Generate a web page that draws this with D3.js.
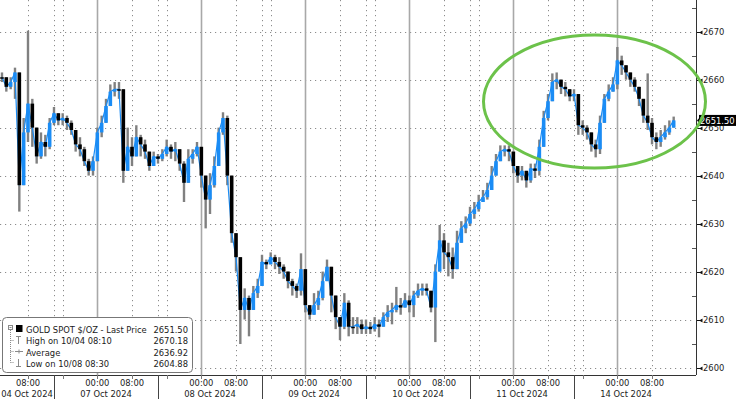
<!DOCTYPE html>
<html>
<head>
<meta charset="utf-8">
<script src="https://cdn.jsdelivr.net/npm/d3@7"></script>
<style>
body { margin: 0; background: #fff; }
svg { display: block; font-family: "DejaVu Sans Condensed", "Liberation Sans", sans-serif; }
</style>
</head>
<body>
<svg width="736" height="399"></svg>
<script>
// hourly bars, first bar = session hour 12 (04 Oct)
var firstHour = 12;

var closes = [
  2660.5, 2658.5, 2659.5, 2661.5, 2638, 2649, 2655, 2650, 2644, 2647, 2646, 2651,
  2653, 2651.5, 2652, 2651, 2649.5, 2646.5, 2645.5, 2643, 2641, 2643, 2649, 2651,
  2654.5, 2657.5, 2658, 2658, 2641, 2646, 2644, 2648, 2646.5, 2645, 2642, 2644,
  2643.5, 2644.5, 2646, 2645, 2645.5, 2642.5, 2638.5, 2643.5, 2644.5, 2646, 2640, 2635,
  2638, 2642, 2649, 2652, 2640, 2628, 2623, 2612, 2614.5, 2612, 2615.5, 2617,
  2622, 2621.5, 2623, 2622, 2621, 2620, 2618, 2617, 2616, 2620.5, 2613, 2611,
  2613, 2614.5, 2618, 2621, 2615, 2610.5, 2608.5, 2613.5, 2608.5, 2608.5, 2609, 2608,
  2608.5, 2608, 2609, 2608.5, 2610.5, 2611.5, 2612, 2613, 2612.5, 2614, 2613, 2615,
  2616, 2616.5, 2616, 2612.5, 2620, 2626.5, 2624, 2623, 2620.5, 2626, 2629, 2630,
  2632, 2633, 2634.5, 2635.5, 2637, 2640, 2643, 2645, 2645.5, 2645, 2642, 2640,
  2641, 2639, 2641.5, 2641, 2646, 2652, 2655.5, 2659.5, 2660, 2658.5, 2658, 2656.5,
  2657, 2650.5, 2650, 2649, 2646.5, 2645.5, 2651, 2656, 2657.5, 2659, 2664, 2663,
  2661.5, 2660, 2658.5, 2656, 2652.5, 2651, 2648, 2647, 2648, 2649, 2650, 2651.5
];

var highs = [
  2661.5, 2660.5, 2660.5, 2662.5, 2656, 2652, 2670.2, 2656, 2650, 2649, 2648.5, 2652,
  2654.3, 2653, 2653, 2652.5, 2651.5, 2649, 2648, 2646, 2643.5, 2644, 2650, 2652.5,
  2656, 2659, 2659.5, 2659.5, 2656, 2650, 2648, 2650.5, 2648.5, 2647.5, 2645, 2645,
  2644.5, 2645.5, 2647.5, 2646.5, 2647, 2645.5, 2643, 2645.5, 2645.5, 2647, 2646, 2640,
  2640.5, 2644, 2650, 2653.2, 2652.5, 2640, 2628, 2623, 2616.5, 2615, 2617, 2618.5,
  2623.5, 2622.5, 2624, 2623.5, 2623, 2621.5, 2620, 2618.5, 2617.5, 2623.8, 2619, 2613,
  2615.5, 2616, 2620, 2622.5, 2620.5, 2612.5, 2610.5, 2615.5, 2614, 2610.5, 2610.5, 2610,
  2610, 2609.5, 2610.5, 2610, 2611.5, 2613, 2613.5, 2616.8, 2614.5, 2615.5, 2615, 2616,
  2617.5, 2617.5, 2617.5, 2615.5, 2621.5, 2629.7, 2628, 2626, 2625, 2628.5, 2630.5, 2631.5,
  2633.5, 2634.5, 2636, 2637, 2638.5, 2642, 2644.5, 2646.3, 2646.3, 2646.3, 2645, 2641.5,
  2642, 2641, 2642.5, 2642.5, 2647.5, 2653.5, 2657, 2661.3, 2661.5, 2660, 2659.5, 2658,
  2658, 2655.7, 2651.5, 2650.5, 2648.5, 2647.5, 2652.5, 2657, 2659, 2660.5, 2666.8, 2665,
  2663, 2661.5, 2660.5, 2658.5, 2655.5, 2661.3, 2652, 2649, 2649.5, 2650.5, 2651.5, 2652.3
];

var lows = [
  2659.5, 2657.5, 2658, 2656, 2632.5, 2640, 2647, 2646, 2642.5, 2643.5, 2644, 2645.5,
  2650.5, 2650.5, 2650.5, 2649.5, 2648.5, 2645, 2644, 2642, 2640, 2640, 2643, 2648,
  2651, 2655, 2656.5, 2656, 2638.5, 2641.5, 2642, 2644, 2644, 2643.5, 2641, 2642,
  2642.5, 2643, 2644, 2643.5, 2643, 2641, 2634.5, 2640, 2642.5, 2644, 2637.5, 2629,
  2632, 2637.5, 2642, 2648.5, 2638, 2626, 2620, 2604.9, 2610, 2606.5, 2613.5, 2614.5,
  2617, 2620.5, 2621.5, 2620.5, 2619.5, 2618.5, 2616.5, 2615, 2614.5, 2615, 2611.5, 2610,
  2611, 2612, 2614, 2618.5, 2611.5, 2608, 2605.7, 2608, 2606.5, 2607, 2607, 2607,
  2607, 2607, 2607.5, 2606.3, 2608.5, 2609.5, 2609, 2611.5, 2611, 2612.5, 2611.5, 2610.5,
  2614.5, 2615, 2615, 2611.5, 2605.3, 2621, 2620.5, 2619, 2618.5, 2621, 2626.5, 2628,
  2629.5, 2631, 2632.5, 2634.5, 2635, 2637, 2640.5, 2643, 2644, 2643, 2640.5, 2638.5,
  2639, 2637.5, 2638.5, 2639.5, 2640, 2646, 2651.5, 2656, 2658, 2657, 2656.5, 2655.5,
  2655.5, 2648.5, 2648.5, 2647.5, 2645, 2643.8, 2644.5, 2651, 2655.5, 2657.5, 2658, 2661,
  2660, 2658.5, 2657.5, 2654.5, 2651, 2649.5, 2646.5, 2645.5, 2646, 2647.5, 2648.5, 2650
];

// trading sessions (start hour) and their date labels
var sessionStarts = [0, 24, 48, 72, 96, 120, 144];
var sessionLabels = ["04 Oct 2024", "07 Oct 2024", "08 Oct 2024", "09 Oct 2024", "10 Oct 2024", "11 Oct 2024", "14 Oct 2024"];
var gridOffsets = [0, 2, 10, 18];
var timeLabels = {10: "00:00", 18: "08:00"};

var yTicks = [2600, 2610, 2620, 2630, 2640, 2650, 2660, 2670];
var yMinor = [2605, 2615, 2625, 2635, 2645, 2655, 2665, 2675];
var lastPrice = 2651.50;

var legendNames = ["GOLD SPOT $/OZ - Last Price", "High on 10/04 08:10", "Average", "Low on 10/08 08:30"];
var legendValues = ["2651.50", "2670.18", "2636.92", "2604.88"];

var svg = d3.select("svg"),
    width = 696,
    height = 375,
    fontSize = 9.3;

var x = d3.scaleLinear().domain([11.54, 172.15]).range([0, width]);
var y = d3.scaleLinear().domain([2598.44, 2676.6]).range([height, 0]);

var bars = closes.map(function(c, i) {
  var o = i > 0 ? closes[i - 1] : c;
  return {
    t: firstHour + i, o: o, c: c,
    h: Math.max(highs[i], o, c),
    l: Math.min(lows[i], o, c)
  };
});

svg.append("defs").append("clipPath").attr("id", "plot")
  .append("rect").attr("width", width).attr("height", height);

// gridlines
var grid = svg.append("g");
grid.selectAll("line.h").data(yTicks).enter().append("line")
  .attr("x1", 0).attr("x2", width - 4)
  .attr("y1", function(d) { return Math.round(y(d)) + 0.5; })
  .attr("y2", function(d) { return Math.round(y(d)) + 0.5; })
  .attr("stroke", "#8c8c8c")
  .attr("stroke-dasharray", "1.2,3.8");

var vlines = [];
sessionStarts.forEach(function(s) {
  gridOffsets.forEach(function(o) {
    var px = x(s + o);
    if (px > 0 && px < width) vlines.push({x: px, off: o, s: s});
  });
});

grid.selectAll("line.v").data(vlines).enter().append("line")
  .attr("x1", function(d) { return Math.round(d.x) + 0.5; })
  .attr("x2", function(d) { return Math.round(d.x) + 0.5; })
  .attr("y1", 0).attr("y2", height)
  .attr("stroke", function(d) { return d.off === 10 ? "#a8a8a8" : "#8c8c8c"; })
  .attr("stroke-width", function(d) { return d.off === 10 ? 1.6 : 1; })
  .attr("stroke-dasharray", function(d) { return d.off === 10 ? null : "1.2,3.8"; });

// price bars: grey high-low, blue close line, black/blue bodies
var plot = svg.append("g").attr("clip-path", "url(#plot)");

plot.selectAll("line.wick").data(bars).enter().append("line")
  .attr("x1", function(d) { return x(d.t); })
  .attr("x2", function(d) { return x(d.t); })
  .attr("y1", function(d) { return y(d.h); })
  .attr("y2", function(d) { return y(d.l); })
  .attr("stroke", "#808080")
  .attr("stroke-width", 2.4);

plot.append("path").datum(bars)
  .attr("fill", "none")
  .attr("stroke", "#1a8cf5")
  .attr("stroke-width", 1.2)
  .attr("d", d3.line().x(function(d) { return x(d.t); }).y(function(d) { return y(d.c); }));

plot.selectAll("rect.body").data(bars).enter().append("rect")
  .attr("x", function(d) { return x(d.t) - 1.8; })
  .attr("width", 3.6)
  .attr("y", function(d) { return y(Math.max(d.o, d.c)); })
  .attr("height", function(d) { return Math.max(1.5, Math.abs(y(d.o) - y(d.c))); })
  .attr("fill", function(d) { return d.c > d.o ? "#1a8cf5" : "#000"; });

// x axis
var xa = svg.append("g").attr("fill", "#222").attr("font-size", fontSize);
xa.append("line").attr("x1", 0).attr("x2", width)
  .attr("y1", height + 0.5).attr("y2", height + 0.5).attr("stroke", "#333");

xa.selectAll("line.tick").data(vlines).enter().append("line")
  .attr("x1", function(d) { return Math.round(d.x) + 0.5; })
  .attr("x2", function(d) { return Math.round(d.x) + 0.5; })
  .attr("y1", height)
  .attr("y2", function(d) { return d.off === 0 ? 399 : height + 4; })
  .attr("stroke", function(d) { return d.off === 0 ? "#444" : "#777"; });

xa.selectAll("text.time").data(vlines.filter(function(d) { return timeLabels[d.off]; }))
  .enter().append("text")
  .attr("x", function(d) { return d.x; })
  .attr("y", 386)
  .attr("text-anchor", "middle")
  .text(function(d) { return timeLabels[d.off]; });

xa.selectAll("text.day").data(sessionStarts).enter().append("text")
  .attr("x", function(d) {
    var a = Math.max(0, x(d)), b = Math.min(width, x(d + 24));
    return (a + b) / 2;
  })
  .attr("y", 397)
  .attr("text-anchor", "middle")
  .text(function(d, i) { return sessionLabels[i]; });

// y axis on the right
var ya = svg.append("g").attr("fill", "#222").attr("font-size", fontSize);
ya.append("line").attr("x1", width + 0.5).attr("x2", width + 0.5)
  .attr("y1", 0).attr("y2", height).attr("stroke", "#333");

ya.selectAll("line.minor").data(yMinor).enter().append("line")
  .attr("x1", width - 4).attr("x2", width)
  .attr("y1", function(d) { return Math.round(y(d)) + 0.5; })
  .attr("y2", function(d) { return Math.round(y(d)) + 0.5; })
  .attr("stroke", "#555");

ya.selectAll("path.tick").data(yTicks).enter().append("path")
  .attr("d", function(d) {
    var yy = Math.round(y(d)) + 0.5;
    return "M" + (width + 1) + "," + (yy - 0.5) + "h3l2.5,-1.5v4l-2.5,-1.5h-3z";
  })
  .attr("fill", "#111");

// 2650 ends up partly under the last price tag, as in the reference
ya.selectAll("text.lbl").data(yTicks).enter().append("text")
  .attr("x", width + 7)
  .attr("y", function(d) { return y(d); })
  .attr("dy", "0.36em")
  .text(function(d) { return d; });

// last price tag
var tag = svg.append("g");
var ty = y(lastPrice);
tag.append("path")
  .attr("d", "M" + (width + 1) + "," + ty + "l3,-3.5v7z")
  .attr("fill", "#000");
tag.append("rect").attr("x", width + 3).attr("y", ty - 5.5)
  .attr("width", 37).attr("height", 11).attr("fill", "#000");
tag.append("text").attr("x", width + 4).attr("y", ty).attr("dy", "0.36em")
  .attr("fill", "#fff").attr("font-size", fontSize)
  .text(lastPrice.toFixed(2));

// green highlight ellipse
svg.append("ellipse")
  .attr("cx", 594.5).attr("cy", 101.5)
  .attr("rx", 111).attr("ry", 66.5)
  .attr("fill", "none")
  .attr("stroke", "#6cc24a")
  .attr("stroke-width", 3);

// legend
var legend = svg.append("g").attr("font-size", fontSize).attr("fill", "#1a1a1a");
legend.append("rect")
  .attr("x", 2.5).attr("y", 317.5).attr("width", 190).attr("height", 55)
  .attr("rx", 4).attr("fill", "#fff").attr("stroke", "#777");

var rowY = [332.5, 344, 355.5, 366.5];

legend.selectAll("text.name").data(legendNames).enter().append("text")
  .attr("x", 26).attr("y", function(d, i) { return rowY[i]; })
  .text(function(d) { return d; });

legend.selectAll("text.val").data(legendValues).enter().append("text")
  .attr("x", 188).attr("y", function(d, i) { return rowY[i]; })
  .attr("text-anchor", "end")
  .text(function(d) { return d; });

// tree lines and symbols
var sym = legend.append("g").attr("fill", "none").attr("stroke", "#8a8a8a");
sym.append("rect").attr("x", 8.5).attr("y", 325.5).attr("width", 4).attr("height", 4);
sym.append("line").attr("x1", 9.5).attr("x2", 11.5).attr("y1", 327.5).attr("y2", 327.5);
sym.append("path")
  .attr("d", "M10.5,330V362.5M10.5,340.5H14M10.5,351.5H14M10.5,362.5H14")
  .attr("stroke-dasharray", "1,1");
sym.append("path").attr("d", "M16,336.5H21M18.5,336.5V344");
sym.append("path").attr("d", "M15,351.5H23M19,349.5V353.5");
sym.append("path").attr("d", "M18.5,359V366.5M16,366.5H21");
legend.append("rect").attr("x", 16).attr("y", 325).attr("width", 6.5).attr("height", 7).attr("fill", "#000");
</script>
</body>
</html>
